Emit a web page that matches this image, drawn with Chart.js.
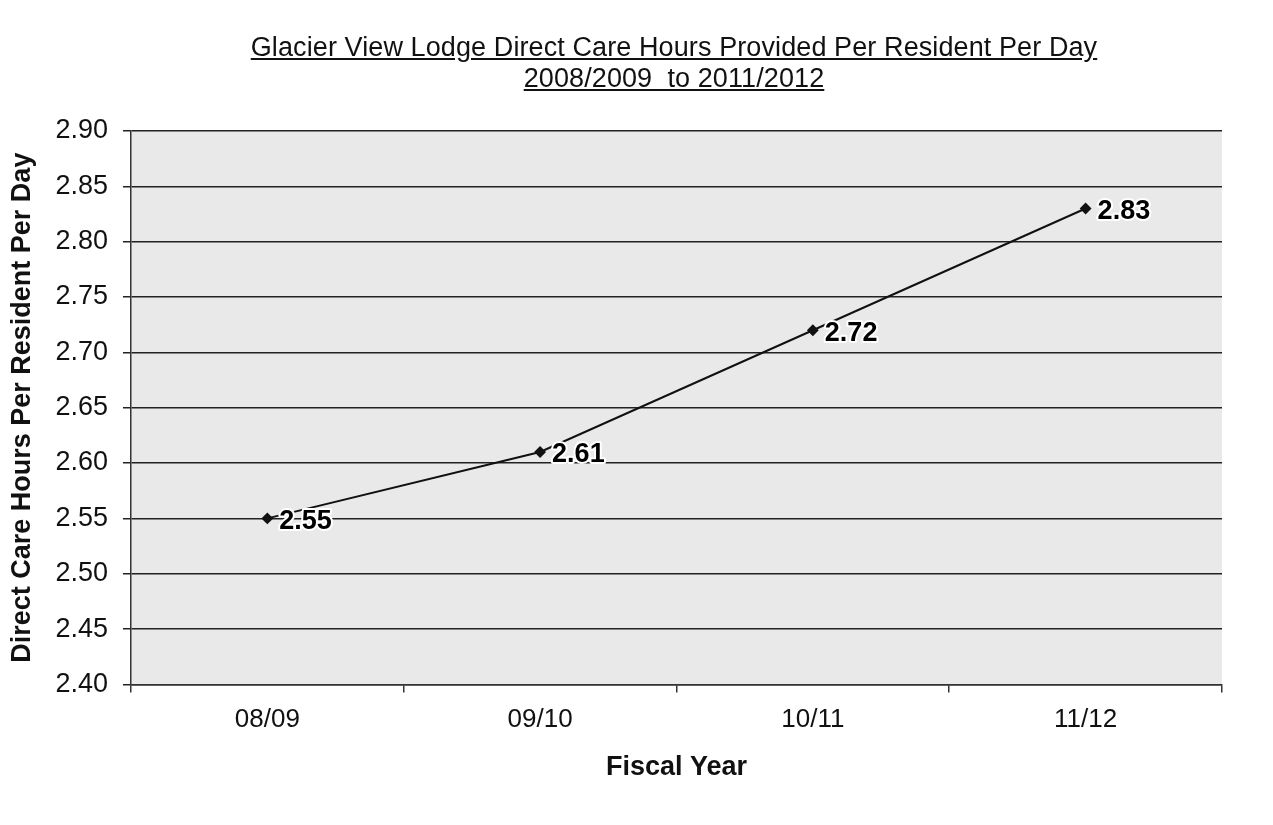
<!DOCTYPE html>
<html>
<head>
<meta charset="utf-8">
<script src="https://cdn.jsdelivr.net/npm/chart.js@4"></script>
<style>
  html, body { margin: 0; padding: 0; background: #fff; }
  #wrap { position: relative; width: 1273px; height: 825px; }
  #title {
    position: absolute; left: 0; top: 32px; width: 1348px;
    text-align: center; font-family: 'Liberation Sans', Arial, sans-serif;
    font-size: 27px; line-height: 31px; color: #111; text-decoration: underline;
    letter-spacing: 0.1px;
  }
  canvas { position: absolute; left: 0; top: 0; }
</style>
</head>
<body>
<div id="wrap">
  <canvas id="chart" width="1273" height="825"></canvas>
  <div id="title">Glacier View Lodge Direct Care Hours Provided Per Resident Per Day<br>2008/2009&nbsp; to 2011/2012</div>
</div>
<script>
var years = ['08/09', '09/10', '10/11', '11/12'];
var hours = [2.55, 2.61, 2.72, 2.83];
var yMin = 2.40, yMax = 2.90, yStep = 0.05;

// gray plot background
var plotBg = {
    id: 'plotBg',
    beforeDraw: function(chart){
        var a = chart.chartArea, c = chart.ctx;
        c.save();
        c.fillStyle = '#e9e9e9';
        c.fillRect(a.left, a.top, a.right - a.left, a.bottom - a.top);
        c.restore();
    }
};

// value labels right of each point
var valueLabels = {
    id: 'valueLabels',
    afterDatasetsDraw: function(chart){
        var c = chart.ctx;
        var meta = chart.getDatasetMeta(0);
        c.save();
        c.font = 'bold 27px "Liberation Sans", Arial, sans-serif';
        c.textBaseline = 'middle';
        c.textAlign = 'left';
        c.lineJoin = 'round';
        meta.data.forEach(function(pt, i){
            var txt = hours[i].toFixed(2);
            c.strokeStyle = '#fff';
            c.lineWidth = 4;
            c.strokeText(txt, pt.x + 12, pt.y + 3);
            c.fillStyle = '#000';
            c.fillText(txt, pt.x + 12, pt.y + 3);
        });
        c.restore();
    }
};

new Chart(document.getElementById('chart').getContext('2d'), {
    type: 'line',
    data: {
        labels: years,
        datasets: [{
            data: hours,
            borderColor: '#111',
            borderWidth: 2,
            pointStyle: 'rectRot',
            pointRadius: 4.5,
            pointBackgroundColor: '#111',
            pointBorderColor: '#111',
            tension: 0
        }]
    },
    options: {
        responsive: false,
        animation: false,
        layout: { padding: { top: 131, right: 51, left: 6, bottom: 41 } },
        plugins: { legend: { display: false }, tooltip: { enabled: false } },
        scales: {
            x: {
                offset: true,
                grid: { offset: true, drawOnChartArea: false, drawTicks: true, tickLength: 8, color: '#333', lineWidth: 1.5 },
                border: { color: '#333', width: 1.5 },
                ticks: { color: '#111', padding: 12, font: { family: '"Liberation Sans", Arial, sans-serif', size: 26 } },
                title: { display: true, text: 'Fiscal Year', color: '#111', padding: { top: 4, bottom: 0 }, font: { family: '"Liberation Sans", Arial, sans-serif', size: 27, weight: 'bold' } }
            },
            y: {
                min: yMin, max: yMax,
                grid: { color: '#222', lineWidth: 1.5, tickLength: 8 },
                border: { color: '#333', width: 1.5 },
                ticks: {
                    stepSize: yStep, color: '#111', padding: 15,
                    font: { family: '"Liberation Sans", Arial, sans-serif', size: 27 },
                    callback: function(v){ return v.toFixed(2); }
                },
                title: { display: true, text: 'Direct Care Hours Per Resident Per Day', color: '#111', padding: { top: 0, bottom: 2 }, font: { family: '"Liberation Sans", Arial, sans-serif', size: 27, weight: 'bold' } }
            }
        }
    },
    plugins: [plotBg, valueLabels]
});
</script>
</body>
</html>
